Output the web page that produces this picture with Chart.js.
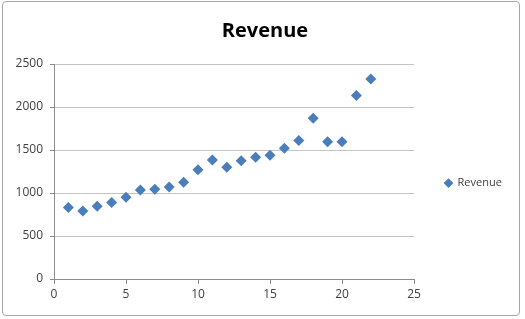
<!DOCTYPE html>
<html>
<head>
<meta charset="utf-8">
<script src="https://cdn.jsdelivr.net/npm/chart.js@4/dist/chart.umd.min.js"></script>
<style>
  html, body { margin: 0; padding: 0; background: #fff; }
  #wrap { position: relative; width: 525px; height: 319px; }
  #frame {
    position: absolute; left: 2px; top: 1px; width: 516px; height: 313px;
    border: 1.5px solid #a6a6a6; border-radius: 4px; pointer-events: none;
  }
</style>
</head>
<body>
<div id="wrap">
  <canvas id="revenueChart" width="525" height="319"></canvas>
  <div id="frame"></div>
</div>
<script>
// ==============================
// DATA
// ==============================
const periods = [1, 2, 3, 4, 5, 6, 7, 8, 9, 10, 11, 12, 13, 14, 15, 16, 17, 18, 19, 20, 21, 22];
const revenue = [830, 790, 845, 890, 950, 1035, 1045, 1070, 1125, 1270, 1385, 1300,
                 1375, 1415, 1440, 1520, 1610, 1870, 1595, 1595, 2135, 2325];
const xTicks = [0, 5, 10, 15, 20, 25];
const yTicks = [0, 500, 1000, 1500, 2000, 2500];

const FONT = "'Open Sans', 'Liberation Sans', sans-serif";
const BLUE = "#4a7ebb";
const LEGEND_WIDTH = 111; // room kept right of the plot, as in the Excel chart

const points = periods.map((p, i) => ({ x: p, y: revenue[i] }));

// widen the legend box so the plot stops where the original does
const legendWidthPlugin = {
  id: "legendWidth",
  beforeLayout(chart) {
    const lg = chart.legend;
    if (!lg || lg._widthPatched) return;
    const origFit = lg.fit.bind(lg);
    lg.fit = function () {
      origFit();
      this.width = LEGEND_WIDTH;
    };
    lg._widthPatched = true;
  },
};

new Chart(document.getElementById("revenueChart"), {
  type: "scatter",
  data: {
    datasets: [
      {
        label: "Revenue",
        data: points,
        pointStyle: "rectRot",
        pointRadius: 5.5,
        pointHoverRadius: 5.5,
        backgroundColor: BLUE,
        borderColor: BLUE,
        borderWidth: 0,
      },
    ],
  },
  options: {
    responsive: false,
    animation: false,
    layout: { padding: { left: 5, right: 0, top: 6, bottom: 6 } },
    scales: {
      x: {
        type: "linear",
        min: xTicks[0],
        max: xTicks[xTicks.length - 1],
        afterBuildTicks: (s) => { s.ticks = xTicks.map((v) => ({ value: v })); },
        afterFit: (s) => { s.height = 34; },
        ticks: {
          color: "#404040",
          font: { family: FONT, size: 12 },
          padding: 3,
          callback: (v) => String(v),
        },
        grid: { drawOnChartArea: false, drawTicks: true, tickLength: 5, color: "#8c8c8c" },
        border: { color: "#8c8c8c" },
      },
      y: {
        min: yTicks[0],
        max: yTicks[yTicks.length - 1],
        afterBuildTicks: (s) => { s.ticks = yTicks.map((v) => ({ value: v })); },
        afterFit: (s) => { s.width = 49; },
        ticks: {
          color: "#404040",
          font: { family: FONT, size: 12 },
          padding: 7,
          callback: (v) => String(v),
        },
        grid: { color: "#c4c4c4", tickLength: 4, tickColor: "#8c8c8c" },
        border: { color: "#8c8c8c" },
      },
    },
    plugins: {
      title: {
        display: true,
        text: "Revenue",
        color: "#000",
        font: { family: FONT, size: 20, weight: "bold" },
        padding: { top: 13, bottom: 21 },
      },
      legend: {
        position: "right",
        title: { display: true, text: " ", padding: { top: 4, bottom: 30 }, font: { size: 11 } },
        labels: {
          usePointStyle: true,
          pointStyle: "rectRot",
          boxWidth: 7,
          boxHeight: 7,
          color: "#404040",
          font: { family: FONT, size: 11 },
          padding: 31,
        },
      },
      tooltip: { enabled: false },
    },
  },
  plugins: [legendWidthPlugin],
});
</script>
</body>
</html>
